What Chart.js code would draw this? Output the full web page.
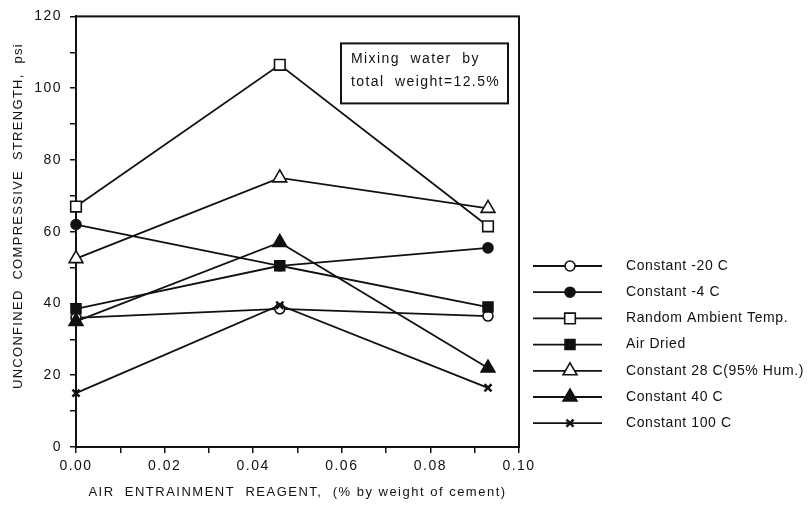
<!DOCTYPE html>
<html>
<head>
<meta charset="utf-8">
<script src="https://cdn.jsdelivr.net/npm/chart.js@4/dist/chart.umd.min.js"></script>
<style>
  html, body { margin: 0; padding: 0; background: #fff; }
  #wrap { width: 810px; height: 518px; }
</style>
</head>
<body>
<div id="wrap"><canvas id="strength"></canvas></div>
<script>
// air entrainment reagent, % by weight of cement
const reagent = [0, 0.046, 0.093];

// unconfined compressive strength, psi
const minus20C = [36, 38.5, 36.5];
const minus4C = [62, 50.5, 55.5];
const randomAmbient = [67, 106.5, 61.5];
const airDried = [38.5, 50.5, 39];
const hum28C = [52.5, 75, 66.5];
const const40C = [35, 57, 22];
const const100C = [15, 39.5, 16.5];

const seriesNames = ['Constant -20 C', 'Constant -4 C', 'Random Ambient Temp.', 'Air Dried',
  'Constant 28 C(95% Hum.)', 'Constant 40 C', 'Constant 100 C'];

const yTitle = 'UNCONFINED  COMPRESSIVE  STRENGTH,  psi';
const xTitle = 'AIR  ENTRAINMENT  REAGENT,  (% by weight of cement)';
const note = ['Mixing  water  by', 'total  weight=12.5%'];

const FONT = '"Liberation Sans", Helvetica, Arial, sans-serif';

function pts(values) {
  return values.map((v, i) => ({ x: reagent[i], y: v }));
}

function series(label, values, style, fill, radius, order) {
  return {
    label: label,
    data: pts(values),
    borderColor: '#111',
    borderWidth: 1.8,
    pointStyle: style,
    pointRadius: radius,
    pointBackgroundColor: fill,
    pointBorderColor: '#111',
    pointBorderWidth: style === 'crossRot' ? 2.5 : 1.6,
    order: order,
    clip: false,
    tension: 0
  };
}

const datasets = [
  series(seriesNames[0], minus20C, 'circle', '#fff', 5, 2),
  series(seriesNames[1], minus4C, 'circle', '#111', 5, 3),
  series(seriesNames[2], randomAmbient, 'rect', '#fff', 7.5, 1),
  series(seriesNames[3], airDried, 'rect', '#111', 7, 0),
  series(seriesNames[4], hum28C, 'triangle', '#fff', 8, 1),
  series(seriesNames[5], const40C, 'triangle', '#111', 8, 1),
  series(seriesNames[6], const100C, 'crossRot', '#111', 5, 1)
];

// spaced-out lettering for the axes
const spacing = {
  id: 'spacing',
  beforeDraw(chart) { chart.ctx.letterSpacing = '1.5px'; }
};

// frame round the plot, the note box and the vertical axis title
const frame = {
  id: 'frame',
  beforeDatasetsDraw(chart) {
    const { ctx, chartArea: a } = chart;
    ctx.save();
    ctx.strokeStyle = '#111';
    ctx.lineWidth = 2;
    ctx.strokeRect(a.left, a.top, a.right - a.left, a.bottom - a.top);
    ctx.restore();
  },
  afterDatasetsDraw(chart) {
    const { ctx, chartArea: a } = chart;
    ctx.save();
    ctx.strokeStyle = '#111';
    ctx.lineWidth = 2;
    ctx.strokeRect(a.left + 265, a.top + 27, 167, 60);
    ctx.fillStyle = '#111';
    ctx.font = '14px ' + FONT;
    ctx.letterSpacing = '1.4px';
    ctx.textBaseline = 'middle';
    ctx.textAlign = 'left';
    ctx.fillText(note[0], a.left + 275, a.top + 43);
    ctx.fillText(note[1], a.left + 275, a.top + 66);

    ctx.translate(18, 216);
    ctx.rotate(-Math.PI / 2);
    ctx.textAlign = 'center';
    ctx.font = '13px ' + FONT;
    ctx.letterSpacing = '1.3px';
    ctx.fillText(yTitle, 0, 0);
    ctx.restore();
  }
};

// legend: short line with the marker in its middle, label to the right
const sideLegend = {
  id: 'sideLegend',
  afterDraw(chart) {
    const ctx = chart.ctx;
    const x0 = 533, x1 = 602, xm = 570, xt = 626, y0 = 266, dy = 26.2;
    ctx.save();
    ctx.letterSpacing = '0.6px';
    chart.data.datasets.forEach((ds, i) => {
      const y = y0 + i * dy;
      ctx.strokeStyle = '#111';
      ctx.lineWidth = 1.8;
      ctx.beginPath();
      ctx.moveTo(x0, y);
      ctx.lineTo(x1, y);
      ctx.stroke();
      ctx.fillStyle = ds.pointBackgroundColor;
      ctx.strokeStyle = '#111';
      ctx.lineWidth = ds.pointBorderWidth;
      Chart.helpers.drawPoint(ctx, {
        pointStyle: ds.pointStyle,
        radius: ds.pointRadius,
        rotation: 0,
        borderWidth: ds.pointBorderWidth
      }, xm, y);
      ctx.fillStyle = '#111';
      ctx.font = '14px ' + FONT;
      ctx.textBaseline = 'middle';
      ctx.textAlign = 'left';
      ctx.fillText(ds.label, xt, y);
    });
    ctx.restore();
  }
};

new Chart(document.getElementById('strength'), {
  type: 'line',
  data: { datasets: datasets },
  options: {
    responsive: true,
    maintainAspectRatio: false,
    animation: false,
    layout: { padding: { top: 13, right: 291, bottom: 0, left: 0 } },
    plugins: {
      legend: { display: false },
      tooltip: { enabled: false }
    },
    scales: {
      x: {
        type: 'linear',
        min: 0,
        max: 0.1,
        afterFit(scale) { scale.height = 71; },
        border: { color: '#111', width: 2 },
        grid: { drawOnChartArea: false, color: '#111', tickLength: 6, lineWidth: 1.5 },
        ticks: {
          stepSize: 0.01,
          maxRotation: 0,
          autoSkip: false,
          padding: 5,
          color: '#111',
          font: { family: FONT, size: 14 },
          callback: v => Math.round(v * 100) % 2 === 0 ? v.toFixed(2) : ''
        },
        title: {
          display: true,
          text: xTitle,
          color: '#111',
          font: { family: FONT, size: 13 },
          padding: { top: 0, bottom: 18 }
        }
      },
      y: {
        min: 0,
        max: 120,
        afterFit(scale) { scale.width = 76; },
        border: { color: '#111', width: 2 },
        grid: { drawOnChartArea: false, color: '#111', tickLength: 6, lineWidth: 1.5 },
        ticks: {
          stepSize: 10,
          autoSkip: false,
          padding: 8,
          color: '#111',
          font: { family: FONT, size: 14 },
          callback: v => v % 20 === 0 ? v : ''
        }
      }
    }
  },
  plugins: [spacing, frame, sideLegend]
});
</script>
</body>
</html>
